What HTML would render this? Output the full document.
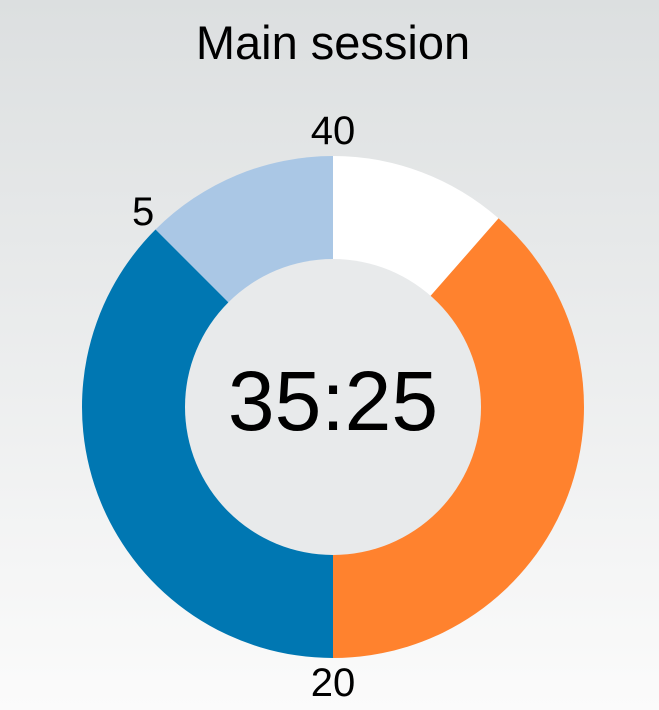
<!DOCTYPE html>
<html><head><meta charset="utf-8"><style>
html,body{margin:0;padding:0;width:659px;height:710px;overflow:hidden}
body{background:linear-gradient(#dcdfe0,#fbfbfb);font-family:"Liberation Sans",Arial,sans-serif}
</style></head><body>
<svg id="chart" width="659" height="710" xmlns="http://www.w3.org/2000/svg">
<text x="333" y="59" text-anchor="middle" font-size="47" font-family="Liberation Sans, sans-serif" fill="#000">Main session</text>
<g id="slices"></g>
<g id="ticks"></g>
<circle cx="333" cy="407" r="148" fill="#e8eaeb"/>
<text x="333" y="430" text-anchor="middle" font-size="84" font-family="Liberation Sans, sans-serif" fill="#000">35:25</text>
</svg>
<script>
const totalMinutes = 40;
const segmentNames = ["first-five","warmup","main","remaining"];
const segmentStarts = [0, 5, 20, 35.4167];
const segmentEnds = [5, 20, 35.4167, 40];
const segmentColors = ["#aac7e5","#0077b2","#ff822e","#ffffff"];
const tickMinutes = [0, 5, 20];
const tickLabels = ["40","5","20"];
const cx=333, cy=407, R=251;
const NS="http://www.w3.org/2000/svg";
function ang(m){return -m/totalMinutes*2*Math.PI;}
function pt(m,r){const a=ang(m);return [cx+r*Math.sin(a), cy-r*Math.cos(a)];}
const gs=document.getElementById('slices');
segmentStarts.forEach((s,i)=>{
  const e=segmentEnds[i];
  const p0=pt(s,R), p1=pt(e,R);
  const large=(e-s)/totalMinutes>0.5?1:0;
  const p=document.createElementNS(NS,'path');
  p.setAttribute('d',`M${cx},${cy} L${p0[0]},${p0[1]} A${R},${R} 0 ${large} 0 ${p1[0]},${p1[1]} Z`);
  p.setAttribute('fill',segmentColors[i]);
  
  
  gs.appendChild(p);
});
const gt=document.getElementById('ticks');
tickMinutes.forEach((m,i)=>{
  const p=pt(m,R+26);
  const t=document.createElementNS(NS,'text');
  t.setAttribute('x',p[0]+(m===5?6:0));
  t.setAttribute('y',p[1]+(m===20?12:14));
  t.setAttribute('text-anchor','middle');
  t.setAttribute('font-size','40');
  t.setAttribute('font-family','Liberation Sans, sans-serif');
  t.textContent=tickLabels[i];
  
  
  gt.appendChild(t);
});
</script>
</body></html>
